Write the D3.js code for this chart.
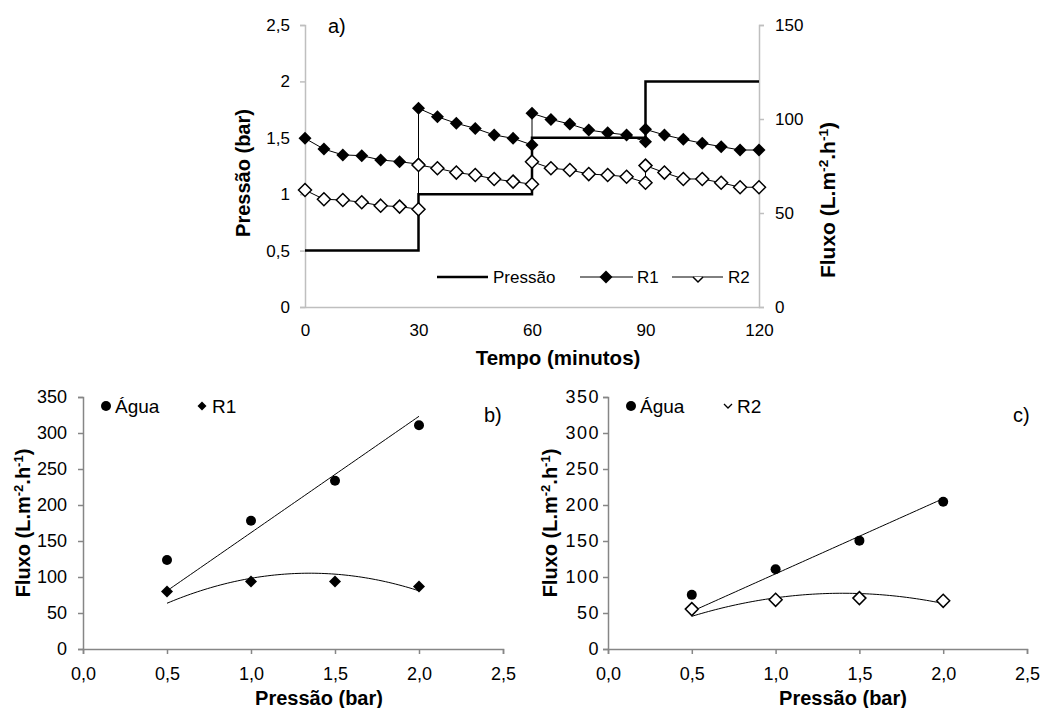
<!DOCTYPE html>
<html>
<head>
<meta charset="utf-8">
<script src="https://cdn.jsdelivr.net/npm/d3@7"></script>
<style>
  body { margin: 0; background: #fff; }
  svg { font-family: "Liberation Sans", Arial, sans-serif; }
</style>
</head>
<body>
<svg id="chart" width="1048" height="708"></svg>
<script>
// ---- a) fluxo x tempo ----
const tempo = [0, 5, 10, 15, 20, 25, 30, 30, 35, 40, 45, 50, 55, 60,
               60, 65, 70, 75, 80, 85, 90, 90, 95, 100, 105, 110, 115, 120];
const fluxoR1 = [89.7, 84.0, 80.9, 80.5, 78.2, 77.3, 76.0,
                 105.7, 101.2, 97.7, 95.0, 91.5, 89.7, 86.2,
                 103.0, 99.8, 97.3, 94.1, 92.7, 91.5, 87.9,
                 94.5, 91.5, 89.2, 87.1, 85.3, 83.5, 83.5];
const fluxoR2 = [62.2, 57.3, 56.9, 55.7, 53.9, 53.4, 52.0,
                 75.5, 73.8, 71.5, 70.2, 68.1, 66.7, 65.3,
                 77.3, 73.8, 72.9, 70.7, 70.2, 69.3, 66.1,
                 75.2, 71.5, 68.1, 68.1, 66.1, 63.7, 63.7];
const pressaoTempo = [0, 30, 30, 60, 60, 90, 90, 120];
const pressaoValor = [0.5, 0.5, 1, 1, 1.5, 1.5, 2, 2];
const ticksPressao = [0, 0.5, 1, 1.5, 2, 2.5];
const ticksFluxoA = [0, 50, 100, 150];
const ticksTempo = [0, 30, 60, 90, 120];

// ---- b) e c) fluxo x pressao ----
const pressaoBar = [0.5, 1.0, 1.5, 2.0];
const aguaB = [123.7, 178.2, 233.6, 310.8];
const r1B = [79.8, 93.7, 93.7, 86.7];
const aguaC = [75.2, 110.8, 150.5, 204.5];
const r2C = [55.4, 68.3, 70.7, 66.9];
const ticksFluxo = [0, 50, 100, 150, 200, 250, 300, 350];
const ticksBar = [0, 0.5, 1.0, 1.5, 2.0, 2.5];

const svg = d3.select('#chart');
const virgula = d3.format('.1f');
const diamond = s => `M0,${-s}L${s},0L0,${s}L${-s},0Z`;
const vShape = s => `M${-s},0L0,${s}L${s},0`;

function styleAxis(g, color, size, spacing) {
  g.select('.domain').attr('stroke', color).attr('stroke-width', 1.5);
  g.selectAll('.tick line').attr('stroke', color).attr('stroke-width', 1.5);
  g.selectAll('.tick text').attr('fill', '#000').attr('font-size', size)
    .attr('letter-spacing', spacing || 0)
    .attr('font-family', '"Liberation Sans", Arial, sans-serif');
}

function fluxoTitle(x, y, size) {
  const t = svg.append('text')
    .attr('transform', `translate(${x},${y}) rotate(-90)`)
    .attr('text-anchor', 'middle')
    .attr('font-size', size).attr('font-weight', 'bold');
  t.append('tspan').text('Fluxo (L.m');
  t.append('tspan').attr('baseline-shift', 'super').attr('font-size', size * 0.65).text('-2');
  t.append('tspan').text('.h');
  t.append('tspan').attr('baseline-shift', 'super').attr('font-size', size * 0.65).text('-1');
  t.append('tspan').text(')');
}

// ================= chart a =================
const xA = d3.scaleLinear().domain([0, 120]).range([305, 759]);
const yP = d3.scaleLinear().domain([0, 2.5]).range([307, 25]);
const yF = d3.scaleLinear().domain([0, 150]).range([307, 25]);

const axA = svg.append('g').attr('transform', 'translate(0,307)')
  .call(d3.axisBottom(xA).tickValues(ticksTempo).tickSize(0).tickPadding(17));
styleAxis(axA, '#bfbfbf', 17);
const ayL = svg.append('g').attr('transform', 'translate(305,0)')
  .call(d3.axisLeft(yP).tickValues(ticksPressao).tickSizeOuter(0).tickSize(5).tickPadding(10)
    .tickFormat(d => String(d).replace('.', ',')));
styleAxis(ayL, '#bfbfbf', 17);
const ayR = svg.append('g').attr('transform', 'translate(759,0)')
  .call(d3.axisRight(yF).tickValues(ticksFluxoA).tickSizeOuter(0).tickSize(5).tickPadding(11));
styleAxis(ayR, '#bfbfbf', 17);

// pressao (degraus)
svg.append('path')
  .datum(pressaoTempo.map((t, i) => [t, pressaoValor[i]]))
  .attr('fill', 'none').attr('stroke', '#000').attr('stroke-width', 2.5)
  .attr('d', d3.line().x(d => xA(d[0])).y(d => yP(d[1])));

const lineA = d3.line().x(d => xA(d[0])).y(d => yF(d[1]));
const serieR1 = tempo.map((t, i) => [t, fluxoR1[i]]);
const serieR2 = tempo.map((t, i) => [t, fluxoR2[i]]);

svg.append('path').datum(serieR1).attr('fill', 'none').attr('stroke', '#000')
  .attr('stroke-width', 1).attr('d', lineA);
svg.selectAll('.mR1').data(serieR1).enter().append('path')
  .attr('transform', d => `translate(${xA(d[0])},${yF(d[1])})`)
  .attr('d', diamond(6.5)).attr('fill', '#000');

svg.append('path').datum(serieR2).attr('fill', 'none').attr('stroke', '#000')
  .attr('stroke-width', 1).attr('d', lineA);
svg.selectAll('.mR2').data(serieR2).enter().append('path')
  .attr('transform', d => `translate(${xA(d[0])},${yF(d[1])})`)
  .attr('d', diamond(6.5)).attr('fill', '#fff').attr('stroke', '#000').attr('stroke-width', 1.5);

// legenda a
svg.append('line').attr('x1', 437).attr('x2', 488).attr('y1', 277).attr('y2', 277)
  .attr('stroke', '#000').attr('stroke-width', 2.5);
svg.append('text').attr('x', 493).attr('y', 283).attr('font-size', 17).text('Pressão');
svg.append('line').attr('x1', 580).attr('x2', 633).attr('y1', 277).attr('y2', 277)
  .attr('stroke', '#000').attr('stroke-width', 1);
svg.append('path').attr('transform', 'translate(606,277)').attr('d', diamond(6.5)).attr('fill', '#000');
svg.append('text').attr('x', 637).attr('y', 283).attr('font-size', 17).text('R1');
svg.append('line').attr('x1', 672).attr('x2', 723).attr('y1', 277).attr('y2', 277)
  .attr('stroke', '#000').attr('stroke-width', 1);
svg.append('path').attr('transform', 'translate(698,277)').attr('d', vShape(5))
  .attr('fill', '#fff').attr('stroke', '#000').attr('stroke-width', 1.5);
svg.append('text').attr('x', 728).attr('y', 283).attr('font-size', 17).text('R2');

svg.append('text').attr('x', 328).attr('y', 33).attr('font-size', 20).text('a)');
svg.append('text').attr('transform', 'translate(250,173) rotate(-90)')
  .attr('text-anchor', 'middle').attr('font-size', 20).attr('font-weight', 'bold')
  .text('Pressão (bar)');
fluxoTitle(835, 200, 21);
svg.append('text').attr('x', 558).attr('y', 365).attr('text-anchor', 'middle')
  .attr('font-size', 20.5).attr('font-weight', 'bold').text('Tempo (minutos)');

// ================= charts b, c =================
function fitLinear(xs, ys) {
  const b = d3.sum(xs, (x, i) => x * ys[i]) / d3.sum(xs, x => x * x);
  return x => b * x;
}
function fitQuad(xs, ys) {
  const s2 = d3.sum(xs, x => x ** 2), s3 = d3.sum(xs, x => x ** 3), s4 = d3.sum(xs, x => x ** 4);
  const sxy = d3.sum(xs, (x, i) => x * ys[i]), sx2y = d3.sum(xs, (x, i) => x * x * ys[i]);
  const det = s4 * s2 - s3 * s3;
  const a = (sx2y * s2 - s3 * sxy) / det;
  const b = (s4 * sxy - s3 * sx2y) / det;
  return x => a * x * x + b * x;
}

function panel(x0, x1, agua, reator, nome, aberto, letra, letraX, tituloX, yPad, ySpacing) {
  const x = d3.scaleLinear().domain([0, 2.5]).range([x0, x1]);
  const y = d3.scaleLinear().domain([0, 350]).range([649, 397]);

  const gx = svg.append('g').attr('transform', 'translate(0,649)')
    .call(d3.axisBottom(x).tickValues(ticksBar).tickSizeOuter(0).tickSize(5).tickPadding(13)
      .tickFormat(d => virgula(d).replace('.', ',')));
  styleAxis(gx, '#868686', 18);
  const gy = svg.append('g').attr('transform', `translate(${x0},0)`)
    .call(d3.axisLeft(y).tickValues(ticksFluxo).tickSizeOuter(0).tickSize(5).tickPadding(yPad));
  styleAxis(gy, '#868686', 18, ySpacing);

  const xsFit = d3.range(0.5, 2.0001, 0.02);
  const lin = fitLinear(pressaoBar, agua);
  const quad = fitQuad(pressaoBar, reator);
  svg.append('path').datum(xsFit).attr('fill', 'none').attr('stroke', '#000')
    .attr('stroke-width', 1).attr('d', d3.line().x(d => x(d)).y(d => y(lin(d))));
  svg.append('path').datum(xsFit).attr('fill', 'none').attr('stroke', '#000')
    .attr('stroke-width', 1).attr('d', d3.line().x(d => x(d)).y(d => y(quad(d))));

  svg.selectAll(null).data(pressaoBar).enter().append('circle')
    .attr('cx', d => x(d)).attr('cy', (d, i) => y(agua[i])).attr('r', 5).attr('fill', '#000');
  svg.selectAll(null).data(pressaoBar).enter().append('path')
    .attr('transform', (d, i) => `translate(${x(d)},${y(reator[i])})`)
    .attr('d', diamond(aberto ? 6.5 : 6))
    .attr('fill', aberto ? '#fff' : '#000')
    .attr('stroke', aberto ? '#000' : 'none').attr('stroke-width', 1.5);

  // legenda
  svg.append('circle').attr('cx', x0 + 23).attr('cy', 406).attr('r', 5).attr('fill', '#000');
  svg.append('text').attr('x', x0 + 32).attr('y', 413).attr('font-size', 19).text('Água');
  if (aberto) {
    svg.append('path').attr('transform', `translate(${x0 + 120},404)`).attr('d', vShape(4))
      .attr('fill', 'none').attr('stroke', '#000').attr('stroke-width', 1.3);
  } else {
    svg.append('path').attr('transform', `translate(${x0 + 119},406)`).attr('d', diamond(4.5))
      .attr('fill', '#000');
  }
  svg.append('text').attr('x', x0 + 129).attr('y', 413).attr('font-size', 19).text(nome);

  svg.append('text').attr('x', letraX).attr('y', 422).attr('font-size', 20).text(letra);
  svg.append('text').attr('x', tituloX).attr('y', 705).attr('text-anchor', 'middle')
    .attr('font-size', 20).attr('font-weight', 'bold').text('Pressão (bar)');
}

panel(83, 503, aguaB, r1B, 'R1', false, 'b)', 484, 319, 11, 0);
fluxoTitle(30, 523, 20);
panel(608, 1027, aguaC, r2C, 'R2', true, 'c)', 1013, 843, 3, 1.5);
fluxoTitle(557, 523, 20);
</script>
</body>
</html>
